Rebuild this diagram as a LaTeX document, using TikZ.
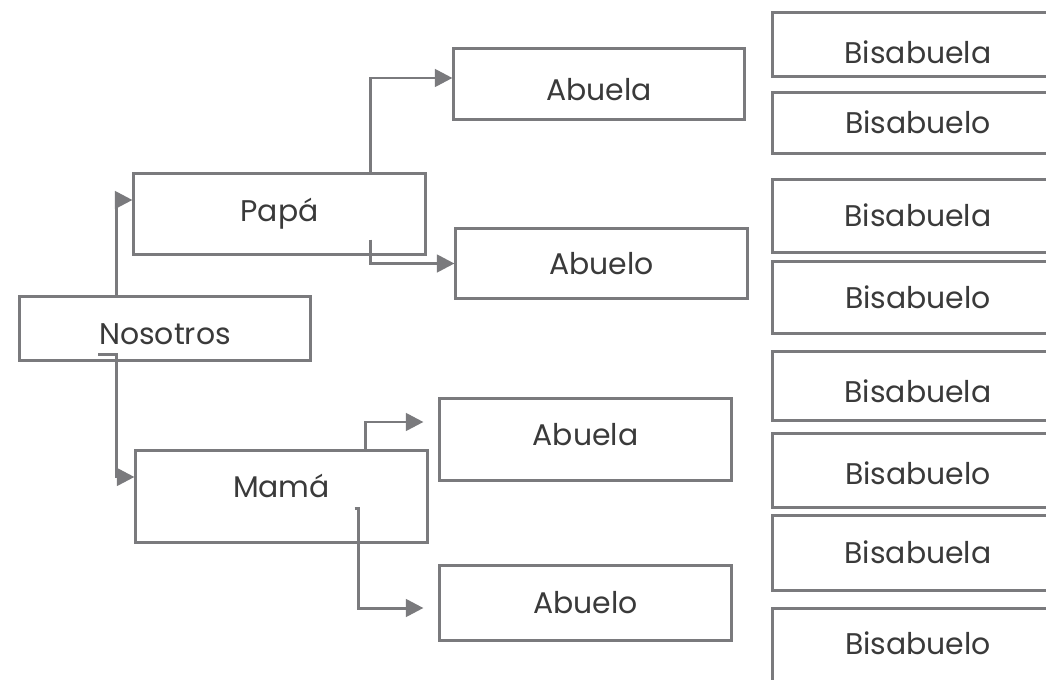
\documentclass[tikz,border=0pt]{standalone}
\usepackage{fontspec}
\setmainfont{Poppins}
\usepackage{tikz}
\usetikzlibrary{arrows.meta,positioning}
\definecolor{boxgray}{RGB}{122,122,125}
\definecolor{textgray}{RGB}{58,58,58}

\begin{document}
\begin{tikzpicture}[x=0.01cm,y=-0.01cm,line width=0.85pt,
                    box node/.style={rectangle,draw=boxgray,fill=white,text=textgray,font=\fontsize{8.5}{10}\selectfont,inner sep=0pt,text height=6pt,text depth=0pt},
                    link/.style={draw=boxgray,-{Triangle[length=5pt,width=5pt]}}]
\path[use as bounding box,clip] (0,0) rectangle (1046,679);

% family boxes
\node[box node,minimum width=2.9cm,minimum height=0.63cm,text height=8.85pt] (Nosotros) at (165,328.5) {Nosotros};
\node[box node,minimum width=2.91cm,minimum height=0.8cm,text height=4pt] (Papa) at (279.5,214) {Papá};
\node[box node,minimum width=2.91cm,minimum height=0.91cm,text height=0.6pt] (Mama) at (281.5,496.5) {Mamá};

\node[box node,minimum width=2.9cm,minimum height=0.7cm,text height=9.4pt] (AbuelaP) at (599,84) {Abuela};
\node[box node,minimum width=2.91cm,minimum height=0.69cm] (AbueloP) at (601.5,263.5) {Abuelo};
\node[box node,minimum width=2.91cm,minimum height=0.81cm,text height=3.45pt] (AbuelaM) at (585.5,439.5) {Abuela};
\node[box node,minimum width=2.91cm,minimum height=0.74cm] (AbueloM) at (585.5,603) {Abuelo};

\foreach \i/\y/\h/\th/\txt in {1/44.5/0.63/10.55/Bisabuela,2/123/0.60/6/Bisabuelo,3/216/0.72/6/Bisabuela,4/297.5/0.71/6/Bisabuelo,
                              5/386/0.68/9.4/Bisabuela,6/470.5/0.73/7.7/Bisabuelo,7/553/0.74/6/Bisabuela,8/654.5/0.91/0/Bisabuelo}
   \node[box node,minimum width=2.9cm,minimum height=\h cm,text height=\th pt] (Bis\i) at (918,\y) {\txt};

% connectors
\draw[link] ([xshift=0.98cm]Nosotros.north west) |- ([yshift=0.14cm]Papa.west);
\draw[link] ([xshift=0.8cm,yshift=0.07cm]Nosotros.south west) -- ++(18,0) |- ([yshift=0.195cm]Mama.west);

\draw[link] ([xshift=2.38cm]Papa.north west) |- ([yshift=0.06cm]AbuelaP.west);
\draw[link] ([xshift=2.38cm,yshift=0.16cm]Papa.south west) |- (AbueloP.west);

\draw[link] ([xshift=2.31cm]Mama.north west) |- ([xshift=-0.15cm,yshift=0.175cm]AbuelaM.west);
\draw[link] ([xshift=2.2cm,yshift=0.35cm]Mama.south west) -- ++(4,0) |- ([xshift=-0.15cm,yshift=-0.05cm]AbueloM.west);

\end{tikzpicture}
\end{document}
